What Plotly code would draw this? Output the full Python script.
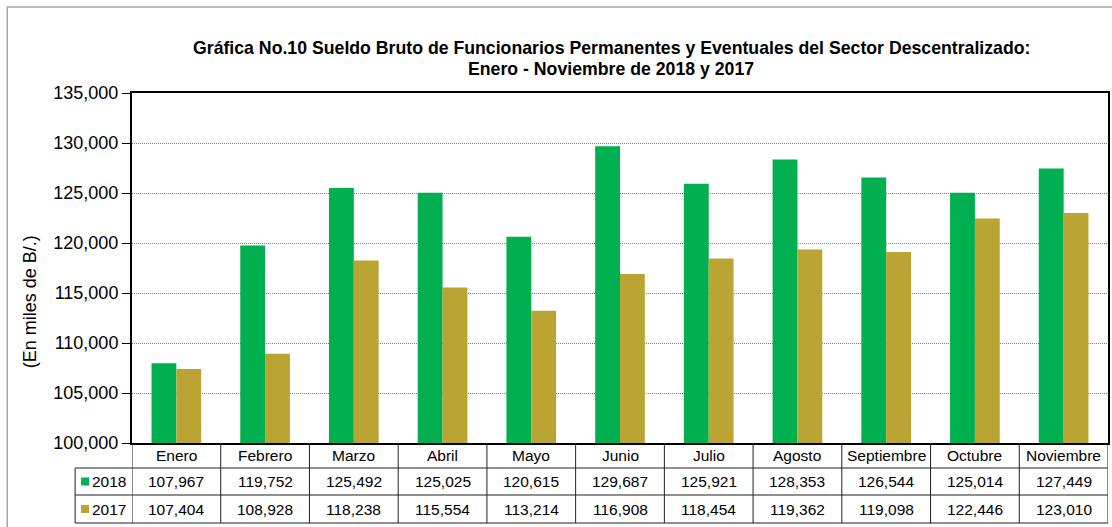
import plotly.graph_objects as go

months = ["Enero", "Febrero", "Marzo", "Abril", "Mayo", "Junio", "Julio",
          "Agosto", "Septiembre", "Octubre", "Noviembre"]
v2018 = [107967, 119752, 125492, 125025, 120615, 129687, 125921, 128353, 126544, 125014, 127449]
v2017 = [107404, 108928, 118238, 115554, 113214, 116908, 118454, 119362, 119098, 122446, 123010]
series_names = ["2018", "2017"]
y_ticks = [100000, 105000, 110000, 115000, 120000, 125000, 130000, 135000]

GREEN = "#00B050"
GOLD = "#B9A434"
FONT = "Liberation Sans, Arial, sans-serif"

W, H = 1112, 527
PL, PR, PT, PB = 132, 1110, 93, 443  # plot area pixels


def px_x(p):
    return (p - PL) / (PR - PL)


def px_y(p):
    return (PB - p) / (PB - PT)


fig = go.Figure()
fig.add_trace(go.Bar(x=months, y=v2018, name=series_names[0], marker_color=GREEN,
                     marker_line_width=0))
fig.add_trace(go.Bar(x=months, y=v2017, name=series_names[1], marker_color=GOLD,
                     marker_line_width=0))

shapes = []
annotations = []

# outer frame
shapes.append(dict(type="rect", xref="paper", yref="paper",
                   x0=px_x(7), x1=px_x(1125), y0=px_y(540), y1=px_y(7),
                   line=dict(color="#A6A6A6", width=1.5), layer="below"))

# table geometry (pixels)
row_lines = [468, 495, 523]
line_style = dict(color="#202020", width=1)
for yy in row_lines:
    shapes.append(dict(type="line", xref="paper", yref="paper",
                       x0=px_x(75), x1=px_x(PR), y0=px_y(yy), y1=px_y(yy),
                       line=line_style))
# left label column border
shapes.append(dict(type="line", xref="paper", yref="paper",
                   x0=px_x(75), x1=px_x(75), y0=px_y(468), y1=px_y(523),
                   line=line_style))
# column separators (through category axis)
for i in range(len(months) + 1):
    shapes.append(dict(type="line", xref="x", yref="paper",
                       x0=i - 0.5, x1=i - 0.5, y0=px_y(PB), y1=px_y(523),
                       line=line_style))

cell_font = dict(family=FONT, size=15.5, color="#000000")
row_centers = [(PB + 468) / 2, (468 + 495) / 2, (495 + 523) / 2]
for i, m in enumerate(months):
    annotations.append(dict(x=m, y=px_y(row_centers[0]), xref="x", yref="paper",
                            text=m, showarrow=False, font=cell_font,
                            xanchor="center", yanchor="middle"))
    annotations.append(dict(x=m, y=px_y(row_centers[1]), xref="x", yref="paper",
                            text=f"{v2018[i]:,}", showarrow=False, font=cell_font,
                            xanchor="center", yanchor="middle"))
    annotations.append(dict(x=m, y=px_y(row_centers[2]), xref="x", yref="paper",
                            text=f"{v2017[i]:,}", showarrow=False, font=cell_font,
                            xanchor="center", yanchor="middle"))

for name, color, yc in [(series_names[0], GREEN, row_centers[1]),
                        (series_names[1], GOLD, row_centers[2])]:
    shapes.append(dict(type="rect", xref="paper", yref="paper",
                       x0=px_x(81), x1=px_x(89), y0=px_y(yc + 4), y1=px_y(yc - 4),
                       fillcolor=color, line=dict(width=0)))
    annotations.append(dict(x=px_x(90), y=px_y(yc), xref="paper", yref="paper",
                            text=name, showarrow=False, font=cell_font,
                            xanchor="left", yanchor="middle"))

# title
title_font = dict(family=FONT, size=17.7, color="#000000")
annotations.append(dict(x=px_x(612), y=px_y(48.5), xref="paper", yref="paper",
                        text="<b>Gráfica No.10 Sueldo Bruto de Funcionarios Permanentes y Eventuales del Sector Descentralizado:</b>",
                        showarrow=False, font=title_font,
                        xanchor="center", yanchor="middle"))
annotations.append(dict(x=px_x(612), y=px_y(69.5), xref="paper", yref="paper",
                        text="<b>Enero - Noviembre de 2018 y 2017</b>",
                        showarrow=False, font=title_font,
                        xanchor="center", yanchor="middle"))

# y-axis title
annotations.append(dict(x=px_x(30), y=px_y(302), xref="paper", yref="paper",
                        text="(En miles de B/.)", textangle=-90, showarrow=False,
                        font=dict(family=FONT, size=18, color="#000000"),
                        xanchor="center", yanchor="middle"))

fig.update_layout(
    width=W, height=H,
    margin=dict(l=PL, r=W - PR, t=PT, b=H - PB, pad=0),
    paper_bgcolor="white", plot_bgcolor="white",
    barmode="group", bargap=0.44, bargroupgap=0,
    showlegend=False,
    shapes=shapes, annotations=annotations,
    font=dict(family=FONT, color="#000000"),
    xaxis=dict(showticklabels=False, ticks="", showgrid=False,
               showline=True, linecolor="#000000", linewidth=2, mirror=True,
               range=[-0.5, len(months) - 0.5]),
    yaxis=dict(range=[100000, 135000], tickvals=y_ticks,
               tickformat=",d", ticks="outside", ticklen=8, tickcolor="#000000",
               tickfont=dict(family=FONT, size=18, color="#000000"),
               showgrid=True, gridcolor="#7F7F7F", griddash="1px,1px", gridwidth=1,
               showline=True, linecolor="#000000", linewidth=2, mirror=True,
               zeroline=False),
)

fig.write_html("out.html", config={"displayModeBar": False},
               post_script="document.body.style.margin='0';document.body.style.overflow='hidden';")
